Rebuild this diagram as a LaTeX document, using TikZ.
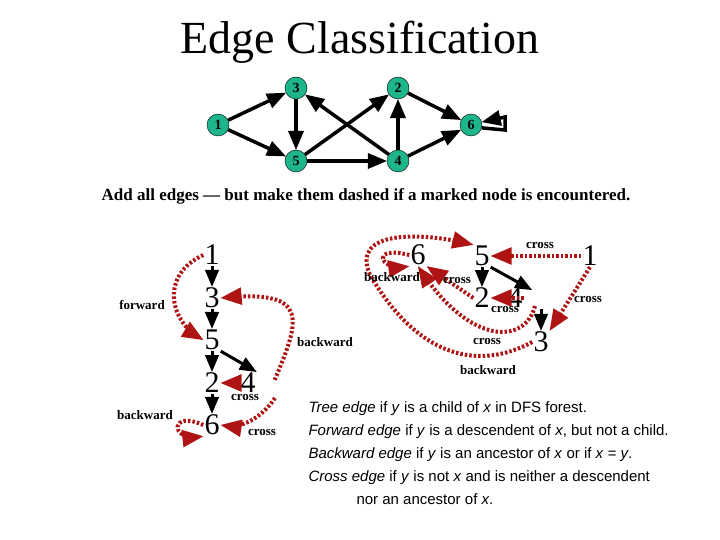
\documentclass[tikz,border=0pt]{standalone}
\usepackage{fontspec}
\setmainfont{Liberation Serif}
\setsansfont{Liberation Sans}
\usetikzlibrary{arrows}
\definecolor{vteal}{RGB}{30,180,140}
\definecolor{dred}{RGB}{175,20,20}
\tikzstyle{vertex} = [circle, draw=black, fill=vteal, inner sep=0pt, minimum size=22pt, font=\fontsize{14}{14}\selectfont\bfseries]
\tikzstyle{edge} = [line width=3.5pt,-triangle 45]
\tikzstyle{num} = [inner sep=1pt, font=\fontsize{30}{30}\selectfont]
\tikzstyle{tree} = [line width=3pt,-triangle 45]
\tikzstyle{nontree} = [dred, line width=4pt, dash pattern=on 2.5pt off 2pt, -triangle 45]
\tikzstyle{lab} = [font=\fontsize{13}{13}\selectfont\bfseries]
\begin{document}
\begin{tikzpicture}[x=1pt,y=-1pt]
		\useasboundingbox (0,0) rectangle (720,540);
		\node (title) at (360,42) {\fontsize{46}{46}\selectfont Edge Classification};
		% graph
		\node (g1) [vertex] at (218,125) {1};
		\node (g3) [vertex] at (296,88) {3};
		\node (g2) [vertex] at (398,88) {2};
		\node (g6) [vertex] at (471,125) {6};
		\node (g5) [vertex] at (296,161) {5};
		\node (g4) [vertex] at (398,161) {4};
		\draw [edge] (g1) -- (g3);
		\draw [edge] (g1) -- (g5);
		\draw [edge] (g3) -- (g5);
		\draw [edge] (g5) -- (g2);
		\draw [edge] (g5) -- (g4);
		\draw [edge] (g4) -- (g3);
		\draw [edge] (g4) -- (g2);
		\draw [edge] (g2) -- (g6);
		\draw [edge] (g4) -- (g6);
		\draw [edge] (g6.-15) -- (505,130) -- (505,117) -- (g6.15);
		\node (rule) at (366,196) {\fontsize{17}{17}\selectfont\bfseries Add all edges --- but make them dashed if a marked node is encountered.};
		% first DFS
		\node (a1) [num] at (212,255) {1};
		\node (a3) [num] at (212,298) {3};
		\node (a5) [num] at (212,340) {5};
		\node (a2) [num] at (212,383) {2};
		\node (a6) [num] at (212,425) {6};
		\node (a4) [num] at (248,383) {4};
		\draw [tree] (a1) -- (a3);
		\draw [tree] (a3) -- (a5);
		\draw [tree] (a5) -- (a2);
		\draw [tree] (a2) -- (a6);
		\draw [tree] (a5.south east) -- (a4.north east);
		\draw [nontree] (a1.west) .. controls (160,275) and (170,320) .. (a5.west);
		\draw [nontree] (a4.north east) ++(18,8) .. controls (300,320) and (310,290) .. (a3.east);
		\draw [nontree] (a4.west) -- (a2.east);
		\draw [nontree] (275,398) .. controls (260,420) and (240,428) .. (a6.east);
		\draw [nontree] (a6.west) .. controls (170,410) and (170,440) .. (a6.south west);
		\node (f1) [lab] at (142,305) {forward};
		\node (b1) [lab] at (325,342) {backward};
		\node (c1) [lab] at (245,397) {cross};
		\node (c2) [lab] at (262,432) {cross};
		\node (b2) [lab] at (145,415) {backward};
		% second DFS
		\node (b6) [num] at (418,255) {6};
		\node (b5) [num] at (482,256) {5};
		\node (b1n) [num] at (590,256) {1};
		\node (b2n) [num] at (482,298) {2};
		\node (b4) [num] at (515,298) {4};
		\node (b3) [num] at (541,342) {3};
		\draw [tree] (b5) -- (b2n);
		\draw [tree] (b5.south east) -- (532,290);
		\draw [tree] (541,309) -- (b3);
		\draw [nontree] (b1n.west) -- (b5.east);
		\draw [nontree] (b1n.south) -- (b3.north east);
		\draw [nontree] (b4.east) -- (b2n.east);
		\draw [nontree] (b2n.west) -- (b6.south east);
		\draw [nontree] (535,306) .. controls (525,345) and (470,345) .. (b6.south);
		\draw [nontree] (b3.west) .. controls (480,370) and (420,360) .. (370,275) .. controls (350,230) and (420,232) .. (b5.north west);
		\draw [nontree] (b6.west) .. controls (370,245) and (380,270) .. (b6.south west);
		\node (c3) [lab] at (540,245) {cross};
		\node (c4) [lab] at (588,299) {cross};
		\node (c5) [lab] at (505,309) {cross};
		\node (c6) [lab] at (457,280) {cross};
		\node (c7) [lab] at (487,341) {cross};
		\node (b3l) [lab] at (392,277) {backward};
		\node (b4l) [lab] at (488,370) {backward};
		% definitions
		\node (defs) [anchor=north west, align=left, font=\sffamily\fontsize{15}{23}\selectfont] at (305,398) {\textit{Tree edge} if \textit{y} is a child of \textit{x} in DFS forest.\\
			\textit{Forward edge} if \textit{y} is a descendent of \textit{x}, but not a child.\\
			\textit{Backward edge} if \textit{y} is an ancestor of \textit{x} or if \textit{x} = \textit{y}.\\
			\textit{Cross edge} if \textit{y} is not \textit{x} and is neither a descendent\\
			\hspace*{48pt}nor an ancestor of \textit{x}.};
\end{tikzpicture}
\end{document}
